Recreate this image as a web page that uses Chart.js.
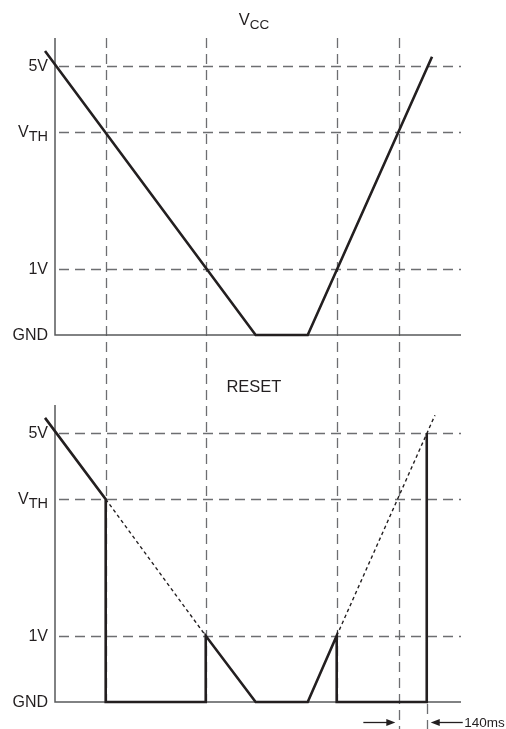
<!DOCTYPE html>
<html><head><meta charset="utf-8">
<script src="https://cdn.jsdelivr.net/npm/chart.js@4/dist/chart.umd.min.js"></script>
<style>html,body{margin:0;padding:0;background:#fff;}#wrap{width:506px;height:729px;position:relative}</style>
</head><body><div id="wrap"><canvas id="c"></canvas></div>
<script>
// ---- data (time in ms from the voltage axis, voltage-level units) ----
const levelNames = ['GND', '1V', 'V', '5V'];
const levelSubs  = ['', '', 'TH', ''];
const levelValues = [0, 1.23, 3.77, 5];
const panelTitles = ['V', 'RESET'];
const panelTitleSubs = ['CC', ''];
const eventTimes = [259, 770, 1439, 1759];   // dashed vertical markers
const delayStart = 1759, delayEnd = 1899;   // reset timeout
const delayLabel = '140ms';
const vccTime = [-51, 1025, 1291, 1926];
const vccVolt = [5.28, 0, 0, 5.17];
const resetTime = [-51, 259, 259, 770, 770, 1025, 1291, 1439, 1439, 1899, 1899];
const resetVolt = [5.28, 3.77, 0, 0, 1.23, 0, 0, 1.23, 0, 0, 5];
const dotTimeA = [259, 770], dotVoltA = [3.77, 1.23];
const dotTimeB = [1439, 1941], dotVoltB = [1.23, 5.33];
const timeMax = 2074;
const panelTop = 5.52;     // top of each panel's voltage axis
const titleLevel = 5.76;   // title baseline
const titleTime = 1016;

const pts = (t, v) => t.map((x, i) => ({x: x, y: v[i]}));
const INK = '#231f20', GRID = '#6d6e71', AXIS = '#58595b';
const FONT = '"Liberation Sans", Arial, sans-serif';

const wave = (data, axis, dash) => ({
  data: data, yAxisID: axis, borderColor: INK, borderWidth: dash ? 1.4 : 2.6,
  borderDash: dash ? [3.5, 3] : [], pointRadius: 0, tension: 0, fill: false, clip: false,
  borderJoinStyle: 'miter', borderCapStyle: 'butt'
});

const decor = {
  id: 'decor',
  beforeDatasetsDraw(chart) {
    const ctx = chart.ctx, xs = chart.scales.x, area = chart.chartArea;
    const panels = [chart.scales.yt, chart.scales.yb];
    ctx.save();
    // vertical dashed markers
    ctx.strokeStyle = GRID; ctx.lineWidth = 1.3; ctx.setLineDash([10, 6]);
    const yb = chart.scales.yb;
    eventTimes.forEach(t => {
      const x = Math.round(xs.getPixelForValue(t)) + 0.5;
      const bottom = (t === delayStart) ? chart.height : yb.getPixelForValue(0);
      ctx.beginPath(); ctx.moveTo(x, area.top); ctx.lineTo(x, bottom); ctx.stroke();
    });
    {
      const x = Math.round(xs.getPixelForValue(delayEnd)) + 0.5;
      ctx.beginPath(); ctx.moveTo(x, yb.getPixelForValue(0) + 2); ctx.lineTo(x, chart.height); ctx.stroke();
    }
    panels.forEach((ys, p) => {
      const x0 = xs.getPixelForValue(0), x1 = xs.getPixelForValue(timeMax);
      // dashed level lines
      ctx.strokeStyle = GRID; ctx.lineWidth = 1.3; ctx.setLineDash([10, 6]);
      levelValues.forEach((v, i) => {
        if (i === 0) return;
        const y = Math.round(ys.getPixelForValue(v)) + 0.5;
        ctx.beginPath(); ctx.moveTo(x0 + 4, y); ctx.lineTo(x1, y); ctx.stroke();
      });
      // axes
      ctx.setLineDash([]); ctx.strokeStyle = AXIS; ctx.lineWidth = 1.5;
      const yg = ys.getPixelForValue(0);
      ctx.beginPath();
      ctx.moveTo(x0, ys.getPixelForValue(panelTop)); ctx.lineTo(x0, yg); ctx.lineTo(x1, yg);
      ctx.stroke();
      // level labels
      ctx.fillStyle = '#231f20';
      levelValues.forEach((v, i) => {
        const y = ys.getPixelForValue(v);
        const right = x0 - 7;
        ctx.textBaseline = 'middle';
        if (levelSubs[i]) {
          ctx.font = '14.5px ' + FONT;
          const sw = ctx.measureText(levelSubs[i]).width;
          ctx.textAlign = 'right';
          ctx.fillText(levelSubs[i], right, y + 5);
          ctx.font = '16px ' + FONT;
          ctx.fillText(levelNames[i], right - sw, y + 0.5);
        } else {
          ctx.font = '16px ' + FONT; ctx.textAlign = 'right';
          ctx.fillText(levelNames[i], right, y + 1);
        }
      });
      // panel title
      const tx = xs.getPixelForValue(titleTime), ty = ys.getPixelForValue(titleLevel);
      ctx.textBaseline = 'alphabetic'; ctx.textAlign = 'left';
      ctx.font = '16.5px ' + FONT;
      const mw = ctx.measureText(panelTitles[p]).width;
      let sw = 0;
      if (panelTitleSubs[p]) { ctx.font = '13.5px ' + FONT; sw = ctx.measureText(panelTitleSubs[p]).width; }
      const left = tx - (mw + sw) / 2;
      ctx.font = '16.5px ' + FONT;
      ctx.fillText(panelTitles[p], left, ty);
      if (panelTitleSubs[p]) { ctx.font = '13.5px ' + FONT; ctx.fillText(panelTitleSubs[p], left + mw, ty + 3.5); }
    });
    // delay arrows
    const ya = Math.round(yb.getPixelForValue(-0.37)) + 0.5;
    const xa = xs.getPixelForValue(delayStart), xb = xs.getPixelForValue(delayEnd);
    ctx.strokeStyle = INK; ctx.fillStyle = INK; ctx.lineWidth = 1.3; ctx.setLineDash([]);
    const arrow = (tail, tip) => {
      const d = Math.sign(tip - tail);
      ctx.beginPath(); ctx.moveTo(tail, ya); ctx.lineTo(tip - d * 6, ya); ctx.stroke();
      ctx.beginPath(); ctx.moveTo(tip, ya); ctx.lineTo(tip - d * 9, ya - 3.5); ctx.lineTo(tip - d * 9, ya + 3.5); ctx.closePath(); ctx.fill();
    };
    arrow(xa - 36, xa - 4);
    arrow(xb + 36, xb + 4);
    ctx.font = '13.5px ' + FONT; ctx.textAlign = 'left'; ctx.textBaseline = 'middle';
    ctx.fillText(delayLabel, xb + 37.5, ya + 0.5);
    ctx.restore();
  }
};

new Chart(document.getElementById('c'), {
  type: 'line',
  data: {
    datasets: [
      wave(pts(vccTime, vccVolt), 'yt', false),
      wave(pts(dotTimeA, dotVoltA), 'yb', true),
      wave(pts(dotTimeB, dotVoltB), 'yb', true),
      wave(pts(resetTime, resetVolt), 'yb', false)
    ]
  },
  options: {
    responsive: true, maintainAspectRatio: false, animation: false,
    layout: {padding: {left: 55, right: 45, top: 38, bottom: 27}},
    plugins: {legend: {display: false}, tooltip: {enabled: false}},
    scales: {
      x: {type: 'linear', min: 0, max: timeMax, display: false},
      yt: {type: 'linear', min: -6.82, max: panelTop, display: false},
      yb: {type: 'linear', min: 0, max: 12.34, display: false}
    }
  },
  plugins: [decor]
});
</script></body></html>
